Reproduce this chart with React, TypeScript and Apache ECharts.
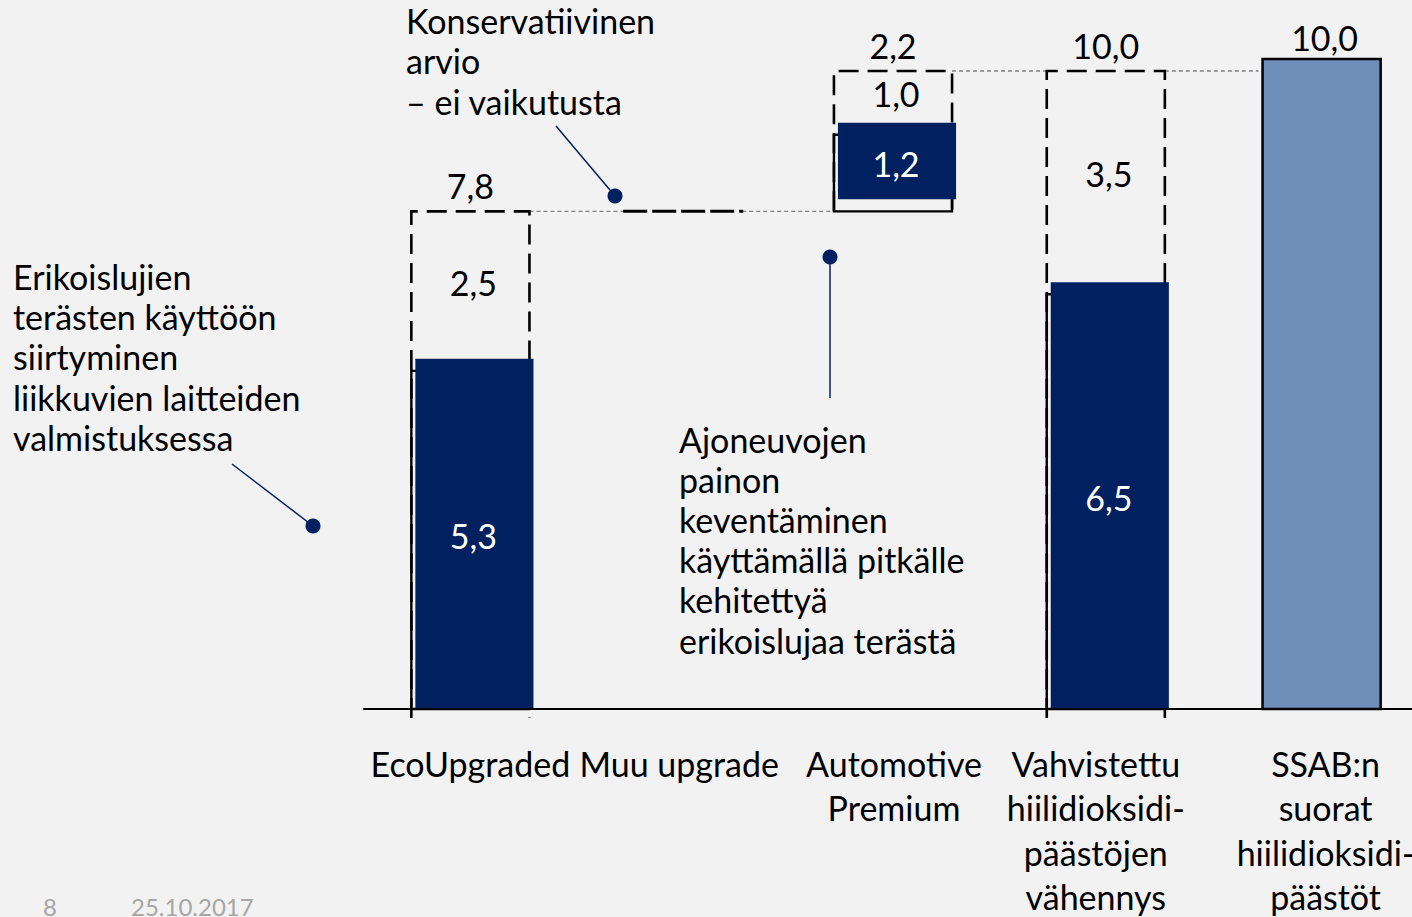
import React, { useEffect, useRef } from "react";
import * as echarts from "echarts";

// ---------- data ----------
const categories = [
  "EcoUpgraded",
  "Muu upgrade",
  "Automotive\nPremium",
  "Vahvistettu\nhiilidioksidi-\npäästöjen\nvähennys",
  "SSAB:n\nsuorat\nhiilidioksidi-\npäästöt",
];
const baseValues = [0, 7.8, 7.8, 0, 0];
const realizedValues = [5.3, 0, 1.2, 6.5, 10.0];
const potentialValues = [2.5, 0, 1.0, 3.5, 0];
const barKinds = ["step", "flat", "step", "step", "total"];

const noteLeft = "Erikoislujien\nterästen käyttöön\nsiirtyminen\nliikkuvien laitteiden\nvalmistuksessa";
const noteTop = "Konservatiivinen\narvio\n– ei vaikutusta";
const noteMid = "Ajoneuvojen\npainon\nkeventäminen\nkäyttämällä pitkälle\nkehitettyä\nerikoislujaa terästä";
const footerPage = "8";
const footerDate = "25.10.2017";

// ---------- style ----------
const FONT = "Lato";
const FS = 34;
const NAVY = "#002060";
const LIGHT = "#6f8db9";
const BG = "#f2f2f2";
const labelShift = [0, -4, -2, -13, 4];

const fmt = (v: number) => v.toFixed(1).replace(".", ",");

export default function App() {
  const ref = useRef<HTMLDivElement>(null);
  useEffect(() => {
    if (!ref.current) return;
    const chart = echarts.init(ref.current, undefined, { renderer: "svg" });
    const data = categories.map((_, i) => [i, baseValues[i], realizedValues[i], potentialValues[i]]);

    const txt = (text: string, x: number, y: number, fill = "#000", size = FS) => ({
      type: "text",
      z2: 20,
      style: {
        text,
        x,
        y,
        fill,
        fontSize: size,
        fontFamily: FONT,
        align: "center",
        verticalAlign: "middle",
        textAlign: "center",
        textVerticalAlign: "middle",
      },
    });

    const renderItem = (params: any, api: any) => {
      const i = api.value(0);
      const base = api.value(1);
      const real = api.value(2);
      const pot = api.value(3);
      const kind = barKinds[i];
      const band = api.size([1, 0])[0];
      const half = (band * 0.555) / 2;
      const cx = api.coord([i, 0])[0] - (kind === "step" && i > 0 ? 3 : 0);
      const y0 = api.coord([i, 0])[1];
      const yv = (v: number) => api.coord([i, v])[1];
      const xl = cx - half;
      const xr = cx + half;
      const children: any[] = [];

      // connector from previous column
      if (i > 0) {
        const prevTop = baseValues[i - 1] + realizedValues[i - 1] + potentialValues[i - 1];
        const pcx = api.coord([i - 1, 0])[0] - (barKinds[i - 1] === "step" && i - 1 > 0 ? 3 : 0);
        const y = yv(prevTop);
        children.push({
          type: "line",
          z2: 1,
          shape: { x1: pcx + half, y1: y, x2: kind === "total" ? xl - 4 : xl, y2: y },
          style: { stroke: "#808080", lineWidth: 1.3, lineDash: [4, 3] },
        });
      }

      if (kind === "flat") {
        const y = yv(base);
        children.push({
          type: "line",
          z2: 5,
          shape: { x1: cx - 60, y1: y, x2: cx + 60, y2: y },
          style: { stroke: "#000", lineWidth: 3, lineDash: [24, 5] },
        });
      } else if (kind === "step") {
        const top = yv(base + real + pot);
        const bottom = base === 0 ? y0 + 9 : yv(base);
        children.push({
          type: "polyline",
          z2: 5,
          shape: { points: [[xl, bottom], [xl, top], [xr, top], [xr, bottom]] },
          style: { stroke: "#000", fill: "none", lineWidth: 2.6, lineDash: [20, 9] },
        });
        // outline of realized part
        const oTop = yv(base + real);
        const oBot = yv(base);
        children.push({
          type: "rect",
          z2: 6,
          shape: { x: xl, y: oTop, width: xr - xl, height: oBot - oTop },
          style: { stroke: "#000", fill: "none", lineWidth: 2.4 },
        });
        // navy fill, slightly offset as in the original slide
        const fTop = oTop - 12;
        const fBot = base === 0 ? y0 - 1 : oBot - 12;
        children.push({
          type: "rect",
          z2: 7,
          shape: { x: xl + 4, y: fTop, width: xr - xl, height: fBot - fTop },
          style: { fill: NAVY },
        });
        children.push(txt(fmt(real + pot), cx, top - 26));
        children.push(txt(fmt(pot), cx + 3, (top + fTop) / 2 - 3));
        children.push(txt(fmt(real), cx + 3, (fTop + fBot) / 2 + 2, "#fff"));
      } else {
        const fTop = yv(base + real) - 12;
        children.push({
          type: "rect",
          z2: 7,
          shape: { x: xl, y: fTop, width: xr - xl, height: y0 - fTop },
          style: { fill: LIGHT, stroke: "#000", lineWidth: 2.5 },
        });
        children.push(txt(fmt(real), cx + 3, fTop - 22));
      }
      return { type: "group", children };
    };

    const rich: any = {};
    categories.forEach((_, i) => {
      const s = labelShift[i];
      rich["c" + i] = {
        fontSize: FS,
        fontFamily: FONT,
        color: "#000",
        lineHeight: 44.5,
        padding: s < 0 ? [0, -2 * s, 0, 0] : [0, 0, 0, 2 * s],
      };
    });

    const option: any = {
      animation: false,
      backgroundColor: BG,
      grid: { left: 364, width: 1064, top: 71, bottom: 208, outerBoundsMode: "none", containLabel: false },
      xAxis: {
        type: "category",
        data: categories,
        axisLine: { lineStyle: { color: "#000", width: 2 } },
        axisTick: { show: false },
        axisLabel: {
          interval: 0,
          margin: 32,
          fontSize: FS,
          fontFamily: FONT,
          color: "#000",
          lineHeight: 44.5,
          formatter: (v: string, idx: number) =>
            v
              .split("\n")
              .map((l) => `{c${idx}|${l}}`)
              .join("\n"),
          rich,
        },
      },
      yAxis: { type: "value", min: 0, max: 10, show: false, splitLine: { show: false } },
      series: [
        {
          type: "custom",
          renderItem,
          data,
          encode: { x: 0, y: 1 },
          clip: false,
          z: 3,
        },
      ],
      graphic: [
        {
          type: "text",
          left: 13,
          top: 256,
          style: { text: noteLeft, fontSize: FS, fontFamily: FONT, fill: "#000", lineHeight: 40.3 },
        },
        {
          type: "text",
          left: 406,
          top: 0,
          style: { text: noteTop, fontSize: FS, fontFamily: FONT, fill: "#000", lineHeight: 40.5 },
        },
        {
          type: "text",
          left: 679,
          top: 419,
          style: { text: noteMid, fontSize: FS, fontFamily: FONT, fill: "#000", lineHeight: 40.2 },
        },
        { type: "line", shape: { x1: 232, y1: 464, x2: 313, y2: 526 }, style: { stroke: NAVY, lineWidth: 1.5 } },
        { type: "circle", shape: { cx: 313, cy: 526, r: 7.5 }, style: { fill: NAVY } },
        { type: "line", shape: { x1: 556, y1: 126, x2: 615, y2: 196 }, style: { stroke: NAVY, lineWidth: 1.5 } },
        { type: "circle", shape: { cx: 615, cy: 196, r: 7.5 }, style: { fill: NAVY } },
        { type: "line", shape: { x1: 830, y1: 398, x2: 830, y2: 257 }, style: { stroke: NAVY, lineWidth: 1.5 } },
        { type: "circle", shape: { cx: 830, cy: 257, r: 7.5 }, style: { fill: NAVY } },
        {
          type: "text",
          x: 43,
          y: 906,
          style: { text: footerPage, fontSize: 24, fontFamily: FONT, fill: "#a6a6a6", verticalAlign: "middle", textVerticalAlign: "middle" },
        },
        {
          type: "text",
          x: 131,
          y: 906,
          style: { text: footerDate, fontSize: 24, fontFamily: FONT, fill: "#a6a6a6", verticalAlign: "middle", textVerticalAlign: "middle" },
        },
      ],
    };
    chart.setOption(option);
    return () => chart.dispose();
  }, []);

  return (
    <div
      ref={ref}
      style={{ position: "fixed", left: 0, top: 0, width: 1412, height: 917, background: BG }}
    />
  );
}
